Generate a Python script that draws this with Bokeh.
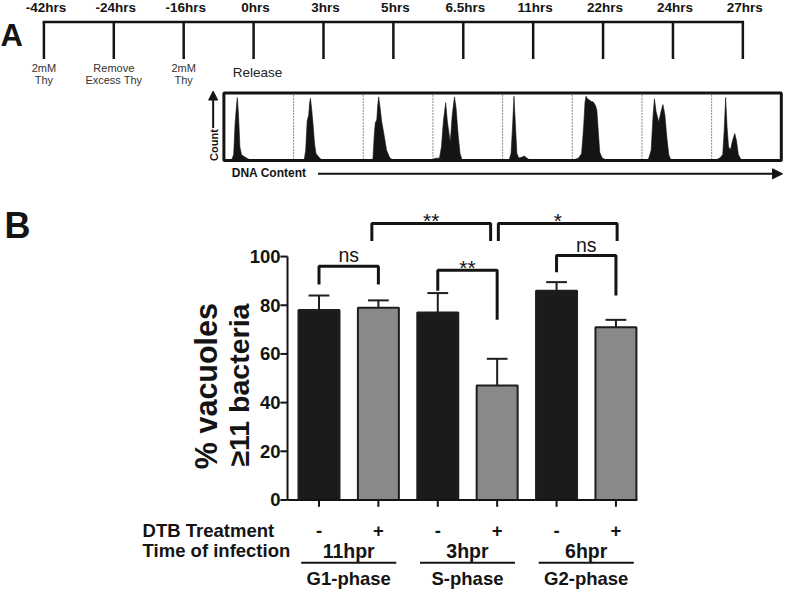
import math
from bokeh.plotting import figure
from bokeh.models import Range1d, Arrow, NormalHead
from bokeh.core.properties import value
from bokeh.embed import file_html
from bokeh.resources import INLINE

# ---------------- data: panel A ----------------
time_labels = ["-42hrs", "-24hrs", "-16hrs", "0hrs", "3hrs", "5hrs",
               "6.5hrs", "11hrs", "22hrs", "24hrs", "27hrs"]
event_line1 = ["2mM", "Remove", "2mM"]
event_line2 = ["Thy", "Excess Thy", "Thy"]
release_label = "Release"

# flow-cytometry histograms (DNA content in % of panel channel range, count in % of max)
hist_dna_0h = [11, 14, 16, 18.5, 19.3, 21, 23, 25.3, 29.5, 33.8, 38]
hist_cnt_0h = [0, 8, 55, 90, 97, 70, 20, 8, 5, 2, 0]
hist_dna_3h = [15.3, 17.4, 19.5, 21.7, 23, 24.2, 25.9, 28, 30.1, 32.2, 36.4, 40.6]
hist_cnt_3h = [0, 15, 60, 70, 88, 96, 80, 55, 25, 10, 4, 0]
hist_dna_5h = [13.8, 15.9, 17.3, 19.4, 20.8, 22.2, 24.3, 26.4, 30, 33.5, 37.7, 41.9]
hist_cnt_5h = [0, 40, 58, 62, 85, 98, 80, 60, 38, 15, 4, 0]
hist_dna_6_5h = [1, 9.4, 12.2, 15, 18.3, 20.7, 24.9, 27.7, 30.9, 33.3, 36.1, 38.9, 41.8]
hist_cnt_6_5h = [2, 3, 20, 60, 89, 60, 27, 70, 98, 80, 40, 10, 0]
hist_dna_11h = [9.3, 12.1, 14.2, 16.3, 18.4, 20.5, 23.3, 27.6, 31.1, 34.6, 38.8]
hist_cnt_11h = [0, 10, 50, 99, 55, 10, 3, 4, 6, 3, 0]
hist_dna_22h = [2.1, 9.1, 13.4, 16.2, 18.3, 19.7, 21.8, 24.6, 27.4, 30.2, 33.1, 35.2, 37.3, 39.4, 42.9, 48.5]
hist_cnt_22h = [0, 3, 10, 50, 90, 99, 95, 93, 91, 90, 85, 78, 45, 12, 3, 0]
hist_dna_24h = [9, 13.2, 16, 17.9, 20.3, 24.1, 27.3, 30.1, 32.9, 35.7, 38.5, 41.4]
hist_cnt_24h = [0, 15, 70, 95, 75, 59, 75, 86, 70, 35, 8, 0]
hist_dna_27h = [6, 11.7, 15.9, 18, 20.1, 22.2, 24.3, 27.1, 30, 33.2, 35.6, 38.4, 42.6]
hist_cnt_27h = [0, 3, 8, 45, 97, 50, 20, 16, 30, 41, 30, 8, 0]

hist_dna = [hist_dna_0h, hist_dna_3h, hist_dna_5h, hist_dna_6_5h,
            hist_dna_11h, hist_dna_22h, hist_dna_24h, hist_dna_27h]
hist_cnt = [hist_cnt_0h, hist_cnt_3h, hist_cnt_5h, hist_cnt_6_5h,
            hist_cnt_11h, hist_cnt_22h, hist_cnt_24h, hist_cnt_27h]

# ---------------- data: panel B ----------------
dtb_treatment = ["-", "+", "-", "+", "-", "+"]
infection_time = ["11hpr", "3hpr", "6hpr"]
cell_phase = ["G1-phase", "S-phase", "G2-phase"]
vacuole_pct = [78, 79, 77, 47, 86, 71]
vacuole_sem = [6, 3, 8, 11, 3.5, 3]
y_ticks = [0, 20, 40, 60, 80, 100]
y_label_lines = ["% vacuoles", "\u226511 bacteria"]
comparisons = [(0, 1, "ns"), (2, 3, "**"), (4, 5, "ns"), (1, 3, "**"), (3, 5, "*")]

# ---------------- layout ----------------
W, H = 784, 591          # drawn size
RW, RH = 800, 607        # reference design units
FONT = value("Liberation Sans")
INK = "#141414"

p = figure(width=W, height=H, x_range=Range1d(0, RW), y_range=Range1d(RH, 0),
           x_axis_type=None, y_axis_type=None, toolbar_location=None,
           output_backend="svg", min_border=0, outline_line_color=None)
p.xgrid.visible = False
p.ygrid.visible = False


def xr(v0, p0, s):
    start = v0 - p0 / s
    return Range1d(start, start + RW / s)


def yr(v0, p0, s):
    start = v0 - (RH - p0) / s
    return Range1d(start, start + RH / s)


p.extra_x_ranges = {"t": xr(0, 44.3, 71.32), "hp": xr(0, 263.5, 71.1), "b": xr(0, 325, 60.6)}
p.extra_y_ranges = {"cnt": yr(0, 163.7, 0.66), "pct": yr(0, 513, 2.5)}

MID = dict(text_font=FONT, text_baseline="middle", text_color=INK)

# panel letters
p.text(x=[0], y=[35.5], text=["A"], text_font_style="bold", text_font_size="31px", **MID)
p.text(x=[4], y=[231], text=["B"], text_font_style="bold", text_font_size="36px", **MID)

# ---- timeline ----
n = len(time_labels)
idx = list(range(n))
p.segment(x0=[0], y0=[22], x1=[n - 1], y1=[22], x_range_name="t",
          line_width=2.5, line_color=INK, line_cap="square")
p.segment(x0=idx, y0=[22] * n, x1=idx, y1=[60] * n, x_range_name="t",
          line_width=2.5, line_color=INK)
p.text(x=idx, y=[7.5] * n, text=time_labels, x_range_name="t", x_offset=2,
       text_font_style="bold", text_font_size="13.5px", text_align="center", **MID)
ne = len(event_line1)
p.text(x=list(range(ne)), y=[69.5] * ne, text=event_line1, x_range_name="t",
       text_font=FONT, text_font_size="11px", text_align="center",
       text_baseline="middle", text_color="#333333")
p.text(x=list(range(ne)), y=[81.5] * ne, text=event_line2, x_range_name="t",
       text_font=FONT, text_font_size="11px", text_align="center",
       text_baseline="middle", text_color="#333333")
p.text(x=[3], y=[74], text=[release_label], x_range_name="t", x_offset=4,
       text_font=FONT, text_font_size="13.5px", text_align="center",
       text_baseline="middle", text_color="#222222")

# ---- histogram strip ----
npan = len(hist_dna)
xs = [[k - 0.5 + d / 100 for d in hist_dna[k]] for k in range(npan)]
p.patches(xs=xs, ys=hist_cnt, x_range_name="hp", y_range_name="cnt",
          fill_color=INK, line_color=INK, line_width=0.6)
p.segment(x0=[k + 0.5 for k in range(npan - 1)], y0=[0] * (npan - 1),
          x1=[k + 0.5 for k in range(npan - 1)], y1=[104] * (npan - 1),
          x_range_name="hp", y_range_name="cnt", line_color="#8a8a8a",
          line_width=1, line_dash="2 1")
p.quad(left=[-0.5], right=[npan - 0.5], bottom=[-1], top=[104],
       x_range_name="hp", y_range_name="cnt", fill_color=None,
       line_color=INK, line_width=3)

p.add_layout(Arrow(x_start=217, y_start=131, x_end=217, y_end=93, line_width=2,
                   line_color=INK,
                   end=NormalHead(size=9, fill_color=INK, line_color=INK)))
p.text(x=[217.5], y=[148.5], text=["Count"], angle=math.pi / 2,
       text_font_style="bold", text_font_size="11px", text_align="center", **MID)
p.text(x=[236], y=[177.5], text=["DNA Content"], text_font_style="bold",
       text_font_size="12px", **MID)
p.add_layout(Arrow(x_start=324, y_start=178, x_end=798, y_end=178, line_width=2,
                   line_color=INK,
                   end=NormalHead(size=10, fill_color=INK, line_color=INK)))

# ---- bar chart ----
nb = len(vacuole_pct)
bx = list(range(nb))
bar_colors = ["#1b1b1b" if t == "-" else "#898989" for t in dtb_treatment]
AX = -0.53

p.vbar(x=bx, top=vacuole_pct, bottom=0, width=0.69, fill_color=bar_colors,
       line_color="#1e1e1e", line_width=2, x_range_name="b", y_range_name="pct")
tops = [v + e for v, e in zip(vacuole_pct, vacuole_sem)]
p.segment(x0=bx, y0=vacuole_pct, x1=bx, y1=tops, x_range_name="b",
          y_range_name="pct", line_color="#1e1e1e", line_width=2)
p.segment(x0=[x - 0.175 for x in bx], y0=tops, x1=[x + 0.175 for x in bx], y1=tops,
          x_range_name="b", y_range_name="pct", line_color="#1e1e1e", line_width=2)

# y axis
p.segment(x0=[AX], y0=[0], x1=[AX], y1=[y_ticks[-1]], x_range_name="b",
          y_range_name="pct", line_color=INK, line_width=2)
p.segment(x0=[AX - 0.12] * len(y_ticks), y0=y_ticks, x1=[AX] * len(y_ticks),
          y1=y_ticks, x_range_name="b", y_range_name="pct", line_color=INK,
          line_width=2)
p.text(x=[AX] * len(y_ticks), y=y_ticks, text=[str(t) for t in y_ticks],
       x_offset=-7, x_range_name="b", y_range_name="pct",
       text_font_style="bold", text_font_size="18.5px", text_align="right", **MID)
# x axis
p.segment(x0=[AX], y0=[0], x1=[5.36], y1=[0], x_range_name="b",
          y_range_name="pct", line_color=INK, line_width=2)
p.segment(x0=bx, y0=[0] * nb, x1=bx, y1=[-2.8] * nb, x_range_name="b",
          y_range_name="pct", line_color=INK, line_width=2)

# y label (two rotated lines)
p.text(x=[210], y=[396], text=[y_label_lines[0]], angle=math.pi / 2,
       text_font_style="bold", text_font_size="30.5px", text_align="center", **MID)
p.text(x=[243], y=[395], text=[y_label_lines[1]], angle=math.pi / 2,
       text_font_style="bold", text_font_size="28.5px", text_align="center", **MID)

# rows under the axis
p.text(x=[145, 145], y=[544.5, 565], text=["DTB Treatment", "Time of infection"],
       text_font_style="bold", text_font_size="18.5px", **MID)
p.text(x=bx, y=[544.5] * nb, text=dtb_treatment, x_range_name="b",
       text_font_style="bold", text_font_size="18.5px", text_align="center", **MID)
gc = [0.5 + 2 * g for g in range(len(infection_time))]
p.text(x=gc, y=[565] * len(gc), text=infection_time, x_range_name="b",
       text_font_style="bold", text_font_size="19.5px", text_align="center", **MID)
p.segment(x0=[g - 0.8 for g in gc], y0=[577.5] * len(gc), x1=[g + 0.8 for g in gc],
          y1=[577.5] * len(gc), x_range_name="b", line_color=INK, line_width=2)
p.text(x=gc, y=[594] * len(gc), text=cell_phase, x_range_name="b",
       text_font_style="bold", text_font_size="18.5px", text_align="center", **MID)

# significance brackets
bk_top = [96, 94.4, 100.4, 113.6, 113.6]
bk_left_end = [88.5, 86, 93.6, 106.4, 106.4]
bk_right_end = [88.5, 74, 84, 106.4, 106.4]
bk_shift = [0, 0, 0, -0.11, 0.02]
bxs, bys, lx, ly, ltxt = [], [], [], [], []
for (a, b, lab), t, le, re, sh in zip(comparisons, bk_top, bk_left_end, bk_right_end, bk_shift):
    bxs.append([a + sh, a + sh, b + sh, b + sh])
    bys.append([le, t, t, re])
    lx.append((a + b) / 2 + sh)
    ly.append(t)
    ltxt.append(lab)
p.multi_line(xs=bxs, ys=bys, x_range_name="b", y_range_name="pct",
             line_color=INK, line_width=3)
ns_i = [i for i, s in enumerate(ltxt) if s == "ns"]
st_i = [i for i, s in enumerate(ltxt) if s != "ns"]
p.text(x=[lx[i] for i in ns_i], y=[ly[i] for i in ns_i], text=[ltxt[i] for i in ns_i],
       y_offset=-11, x_range_name="b", y_range_name="pct",
       text_font_size="19.5px", text_align="center", **MID)
p.text(x=[lx[i] for i in st_i], y=[ly[i] for i in st_i], text=[ltxt[i] for i in st_i],
       y_offset=-3, x_range_name="b", y_range_name="pct",
       text_font_size="21px", text_align="center", **MID)

open("out.html", "w").write(file_html(p, INLINE))
